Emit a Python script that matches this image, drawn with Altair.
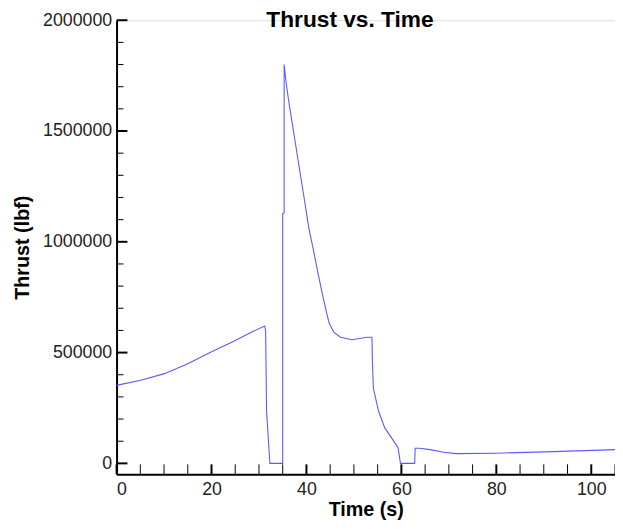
import altair as alt
import pandas as pd

# Thrust curve (time in s, thrust in lbf)
time_s = [0, 5.3, 10.1, 15, 19.8, 24.7, 28.8, 31.2, 31.4, 31.6, 32.3, 35.0, 35.0, 35.3,
          35.3, 35.7, 36.4, 37.4, 38.5, 39.5, 40.5, 41.5, 42.5, 43.5, 44.3, 44.8, 45.8,
          47.2, 49.6, 52.7, 53.8, 53.9, 54.1, 55.2, 56.5, 57.9, 59.3, 59.8, 62.8, 62.9,
          63.8, 66.0, 69.0, 71.5, 80.0, 92.0, 102.0, 105.0]
thrust_lbf = [352000, 376000, 405000, 450000, 502000, 551000, 596000, 620000, 600000, 235000,
              0, 0, 1127000, 1130000, 1800000, 1720000, 1616000, 1482000, 1333000, 1200000,
              1062000, 960000, 851000, 750000, 675000, 632000, 591000, 569000, 558000,
              569000, 569000, 457000, 339000, 235000, 160000, 116000, 71000, 0, 0, 68000,
              68000, 62000, 50000, 44000, 46000, 53000, 60000, 62000]

x_major = [0, 20, 40, 60, 80, 100]
x_minor = [v for v in range(5, 106, 5) if v % 20 != 0]
y_major = [0, 500000, 1000000, 1500000, 2000000]
y_minor = [v for v in range(100000, 2000000, 100000) if v % 500000 != 0]

FONT = "Liberation Sans"
W, H = 505, 460

line_df = pd.DataFrame({"t": time_s, "thrust": thrust_lbf, "i": range(len(time_s))})

xscale = alt.Scale(domain=[0, 105], nice=False, zero=False)
yscale = alt.Scale(domain=[-49000, 2000000], nice=False, zero=False)

base_x_axis = alt.Axis(values=x_major, format="d", ticks=False, grid=False,
                       domainColor="black", domainWidth=2, labelFont=FONT, labelFontSize=18,
                       labelColor="#222222", labelPadding=7, title="Time (s)",
                       titleFont=FONT, titleFontSize=20, titleFontWeight="bold",
                       titleColor="black", titlePadding=1)
base_y_axis = alt.Axis(values=y_major, format="d", ticks=False, grid=False,
                       domainColor="black", domainWidth=2, labelFont=FONT, labelFontSize=18,
                       labelColor="#222222", labelPadding=5, title="Thrust (lbf)",
                       titleFont=FONT, titleFontSize=20, titleFontWeight="bold",
                       titleColor="black", titlePadding=10)

line = alt.Chart(line_df).mark_line(color="#5a5aff", strokeWidth=1.1).encode(
    x=alt.X("t:Q", scale=xscale, axis=base_x_axis),
    y=alt.Y("thrust:Q", scale=yscale, axis=base_y_axis),
    order="i:Q",
)

xmaj = alt.Chart(pd.DataFrame({"t": x_major})).mark_rule(color="black", strokeWidth=2).encode(
    x=alt.X("t:Q", scale=xscale), y=alt.value(H), y2=alt.value(H - 10))
xmin = alt.Chart(pd.DataFrame({"t": x_minor})).mark_rule(color="black", strokeWidth=1).encode(
    x=alt.X("t:Q", scale=xscale), y=alt.value(H), y2=alt.value(H - 10))
ymaj = alt.Chart(pd.DataFrame({"v": y_major})).mark_rule(color="black", strokeWidth=2).encode(
    y=alt.Y("v:Q", scale=yscale), x=alt.value(0), x2=alt.value(11))
ymin = alt.Chart(pd.DataFrame({"v": y_minor})).mark_rule(color="black", strokeWidth=1).encode(
    y=alt.Y("v:Q", scale=yscale), x=alt.value(0), x2=alt.value(7))

chart = alt.layer(line, xmin, xmaj, ymin, ymaj).properties(
    width=W, height=H,
    title=alt.TitleParams("Thrust vs. Time", font=FONT, fontSize=23, fontWeight="bold",
                          color="black", anchor="middle", dx=-16, offset=-21),
    autosize=alt.AutoSizeParams(type="none"),
    padding={"left": 110, "top": 9, "right": 0, "bottom": 44},
).configure_view(stroke=None).configure(background="white")

chart.save("out.html", embed_options={"renderer": "svg", "actions": False})
